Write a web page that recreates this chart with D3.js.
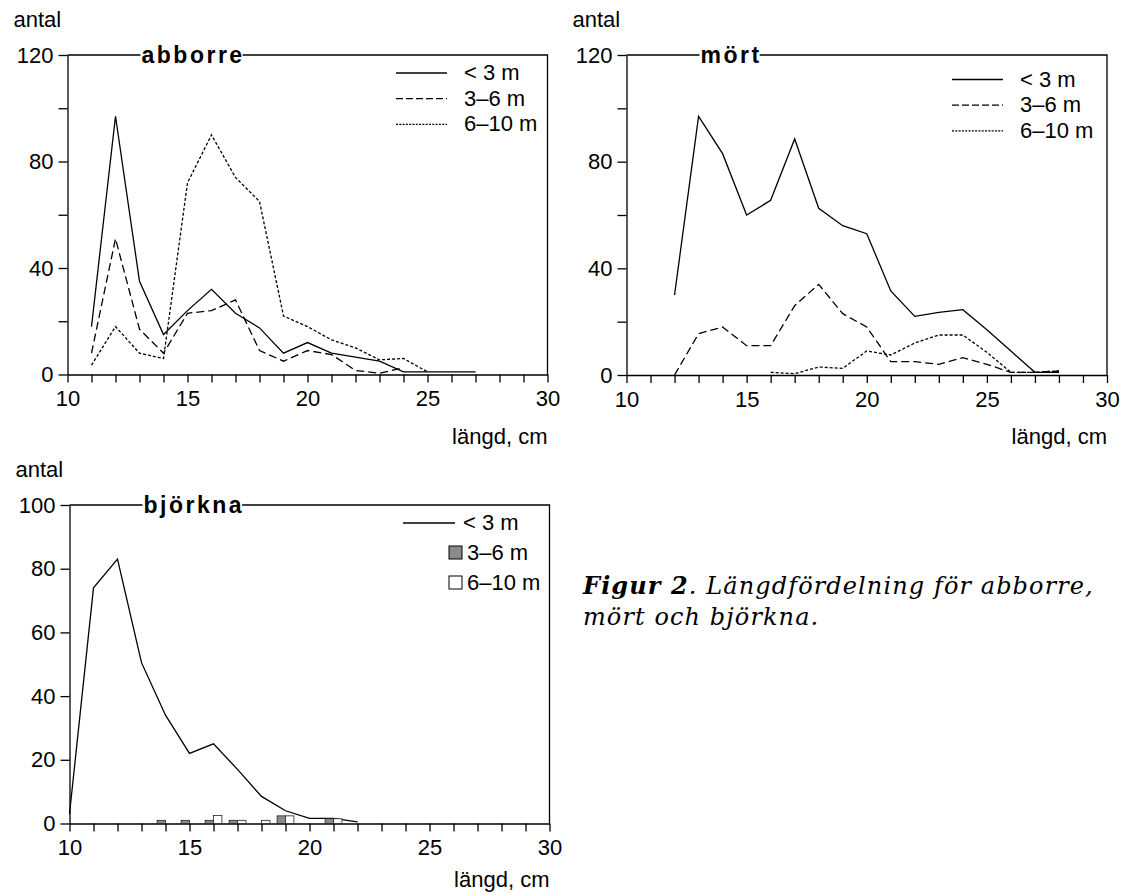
<!DOCTYPE html>
<html>
<head>
<meta charset="utf-8">
<script src="https://cdn.jsdelivr.net/npm/d3@7"></script>
<style>
	body { margin: 0; background: #fff; }
	svg { display: block; }
	text { font-family: "Liberation Sans", Arial, sans-serif; fill: #000; }
	.tick line, .domain { stroke: #000; stroke-width: 1.3; }
	.frame { stroke: #000; stroke-width: 1.3; fill: none; }
	.series { fill: none; stroke: #000; stroke-width: 1.3; }
</style>
</head>
<body>
<div id="chart"></div>
<script>

//length classes (cm) and counts, one array per depth class
var depth_labels = ["< 3 m", "3\u20136 m", "6\u201310 m"];

var abborre_x     = [11, 12, 13, 14, 15, 16, 17, 18, 19, 20, 21, 22, 23, 24, 25, 26, 27];
var abborre_lt3   = [18, 97, 35, 15, 24, 32, 23, 17.5, 8, 12, 8, 6.5, 5, 1, 1, 1, 1];
var abborre_3to6  = [8, 51, 17, 8, 23, 24, 28, 9, 5, 9, 7.5, 1.5, 0.5, 2.5, null, null, null];
var abborre_6to10 = [3.5, 18, 8, 6, 72, 90, 74, 65, 22, 18, 13, 10, 5.5, 6, 1, null, null];

var mort_x     = [12, 13, 14, 15, 16, 17, 18, 19, 20, 21, 22, 23, 24, 25, 26, 27, 28];
var mort_lt3   = [30, 97, 83, 60, 65.5, 88.5, 62.5, 56, 53, 31.5, 22, 23.5, 24.5, 17, 9, 1, 1];
var mort_3to6  = [0, 15.5, 18, 11, 11, 26, 34, 23, 18, 5, 5, 4, 6.5, 4, 1, 1, 1.5];
var mort_6to10 = [null, null, null, null, 1, 0.5, 3, 2.5, 9, 7.5, 12, 15, 15, 8.5, 1, 1, 1.5];

var bjorkna_x   = [10, 11, 12, 13, 14, 15, 16, 17, 18, 19, 20, 21, 22];
var bjorkna_lt3 = [3, 74, 83, 50.5, 34, 22, 25, 17, 8.5, 4, 1.6, 1.6, 0.5];

var bjorkna_3to6_x  = [14, 15, 16, 17, 19, 21];
var bjorkna_3to6    = [1, 1, 1, 1, 2.4, 1.5];
var bjorkna_6to10_x = [16, 17, 18, 19, 21];
var bjorkna_6to10   = [2.5, 1, 1, 2.4, 1.5];

var x_ticks = d3.range(10, 31, 1);

var dash_styles = ["none", "8,4", "3,2"];
var legend_dash = ["none", "7,3", "2,1.3"];

var width = 1125;
var height = 894;

var svg = d3.select("#chart").append("svg")
	.attr("width", width)
	.attr("height", height);


function Panel(svg, opts)
{
	//one small multiple: frame, axes, title set into the top line, legend
	var self = this;

	self.opts = opts;
	self.g = svg.append("g");

	self.x = d3.scaleLinear().domain([10, 30]).range([opts.left, opts.right]);
	self.y = d3.scaleLinear().domain([0, opts.ymax]).range([opts.bottom, opts.top]);

	self.drawAxes();
	self.drawFrame();
}

Panel.prototype.drawAxes = function()
{
	var self = this;
	var o = self.opts;

	var xAxis = d3.axisBottom(self.x)
		.tickValues(x_ticks)
		.tickSize(8)
		.tickSizeOuter(0)
		.tickPadding(8)
		.tickFormat(function(d){ return d % 5 == 0 ? d : ""; });

	var yAxis = d3.axisLeft(self.y)
		.tickValues(d3.range(0, o.ymax + 1, 20))
		.tickSize(9)
		.tickSizeOuter(0)
		.tickPadding(5)
		.tickFormat(function(d){ return d % o.label_every == 0 ? d : ""; });

	self.g.append("g")
		.attr("transform", "translate(0," + o.bottom + ")")
		.call(xAxis)
		.selectAll("text")
			.style("font-size", "22px");

	self.g.append("g")
		.attr("transform", "translate(" + o.left + ",0)")
		.call(yAxis)
		.selectAll("text")
			.style("font-size", "22px");

	self.g.append("text")
		.attr("x", o.left - 54)
		.attr("y", o.top - 28)
		.style("font-size", "22px")
		.text("antal");

	self.g.append("text")
		.attr("x", o.right)
		.attr("y", o.bottom + o.xlabel_gap)
		.attr("text-anchor", "end")
		.style("font-size", "22px")
		.text("längd, cm");
};

Panel.prototype.drawFrame = function()
{
	var self = this;
	var o = self.opts;

	self.g.append("path")
		.attr("class", "frame")
		.attr("d", "M" + o.left + "," + o.top + "H" + o.right + "V" + o.bottom);

	var title = self.g.append("text")
		.attr("x", o.left + 74)
		.attr("y", o.top + 8)
		.style("font-size", "23px")
		.style("font-weight", "bold")
		.style("letter-spacing", "2.5px")
		.text(o.title);

	var box = title.node().getBBox();

	//white box breaks the top line behind the title
	self.g.insert("rect", function(){ return title.node(); })
		.attr("x", box.x - 1)
		.attr("y", o.top - 3)
		.attr("width", box.width - 1)
		.attr("height", 6)
		.attr("fill", "#fff");
};

Panel.prototype.addLine = function(xs, values, i)
{
	var self = this;

	var points = xs.map(function(x, k){ return {x: x, v: values[k]}; });

	var line = d3.line()
		.defined(function(d){ return d.v != null; })
		.x(function(d){ return self.x(d.x); })
		.y(function(d){ return self.y(d.v); });

	self.g.append("path")
		.datum(points)
		.attr("class", "series")
		.attr("stroke-dasharray", dash_styles[i])
		.attr("d", line);
};

Panel.prototype.addBars = function(xs, values, side, fill)
{
	//narrow bars: left of the tick for 3-6 m, right of it for 6-10 m
	var self = this;
	var w = 0.35;

	self.g.append("g")
		.selectAll("rect")
		.data(xs.map(function(x, k){ return {x: x, v: values[k]}; }))
		.enter()
			.append("rect")
				.attr("x", function(d){ return side < 0 ? self.x(d.x - w) : self.x(d.x); })
				.attr("y", function(d){ return self.y(d.v); })
				.attr("width", self.x(10 + w) - self.x(10))
				.attr("height", function(d){ return self.y(0) - self.y(d.v); })
				.attr("fill", fill)
				.attr("stroke", "#222")
				.attr("stroke-width", 0.8);
};

Panel.prototype.addLineLegend = function(lx, ly, step)
{
	var self = this;

	depth_labels.forEach(function(label, i)
		{
			var y = ly + i * step;

			self.g.append("line")
				.attr("x1", lx)
				.attr("x2", lx + 51)
				.attr("y1", y)
				.attr("y2", y)
				.attr("stroke", "#000")
				.attr("stroke-width", 1.3)
				.attr("stroke-dasharray", legend_dash[i]);

			self.g.append("text")
				.attr("x", lx + 68)
				.attr("y", y + 7)
				.style("font-size", "22px")
				.text(label);
		}
	);
};


var p1 = new Panel(svg, {title: "abborre", left: 67.5, right: 547.5, top: 55, bottom: 374.5, ymax: 120, label_every: 40, xlabel_gap: 69});
p1.addLine(abborre_x, abborre_lt3, 0);
p1.addLine(abborre_x, abborre_3to6, 1);
p1.addLine(abborre_x, abborre_6to10, 2);
p1.addLineLegend(396, 73, 25.7);

var p2 = new Panel(svg, {title: "mört", left: 626.5, right: 1107, top: 55, bottom: 375, ymax: 120, label_every: 40, xlabel_gap: 69});
p2.addLine(mort_x, mort_lt3, 0);
p2.addLine(mort_x, mort_3to6, 1);
p2.addLine(mort_x, mort_6to10, 2);
p2.addLineLegend(952, 79.5, 25.7);

var p3 = new Panel(svg, {title: "björkna", left: 69.5, right: 549.5, top: 505, bottom: 823.5, ymax: 100, label_every: 20, xlabel_gap: 63});
p3.addLine(bjorkna_x, bjorkna_lt3, 0);
p3.addBars(bjorkna_3to6_x, bjorkna_3to6, -1, "#8a8a8a");
p3.addBars(bjorkna_6to10_x, bjorkna_6to10, 1, "#fff");

//legend of the björkna panel: a line and two boxes
p3.g.append("line")
	.attr("x1", 403).attr("x2", 455)
	.attr("y1", 523).attr("y2", 523)
	.attr("stroke", "#000").attr("stroke-width", 1.3);
p3.g.append("text")
	.attr("x", 463).attr("y", 530)
	.style("font-size", "22px")
	.text(depth_labels[0]);

[["#8a8a8a", 553], ["#fff", 583]].forEach(function(item, k)
	{
		p3.g.append("rect")
			.attr("x", 449).attr("y", item[1] - 7)
			.attr("width", 13).attr("height", 13)
			.attr("fill", item[0])
			.attr("stroke", "#000").attr("stroke-width", 1);
		p3.g.append("text")
			.attr("x", 467).attr("y", item[1] + 7)
			.style("font-size", "22px")
			.text(depth_labels[k + 1]);
	}
);

//figure caption
var caption = svg.append("text")
	.attr("x", 583)
	.attr("y", 594)
	.style("font-family", "'DejaVu Serif', serif")
	.style("font-style", "italic")
	.style("font-size", "24px")
	.style("letter-spacing", "1.1px");

caption.append("tspan")
	.style("font-weight", "900")
	.text("Figur 2");
caption.append("tspan")
	.text(". Längdfördelning för abborre,");
caption.append("tspan")
	.attr("x", 583)
	.attr("dy", 31)
	.text("mört och björkna.");

</script>
</body>
</html>
